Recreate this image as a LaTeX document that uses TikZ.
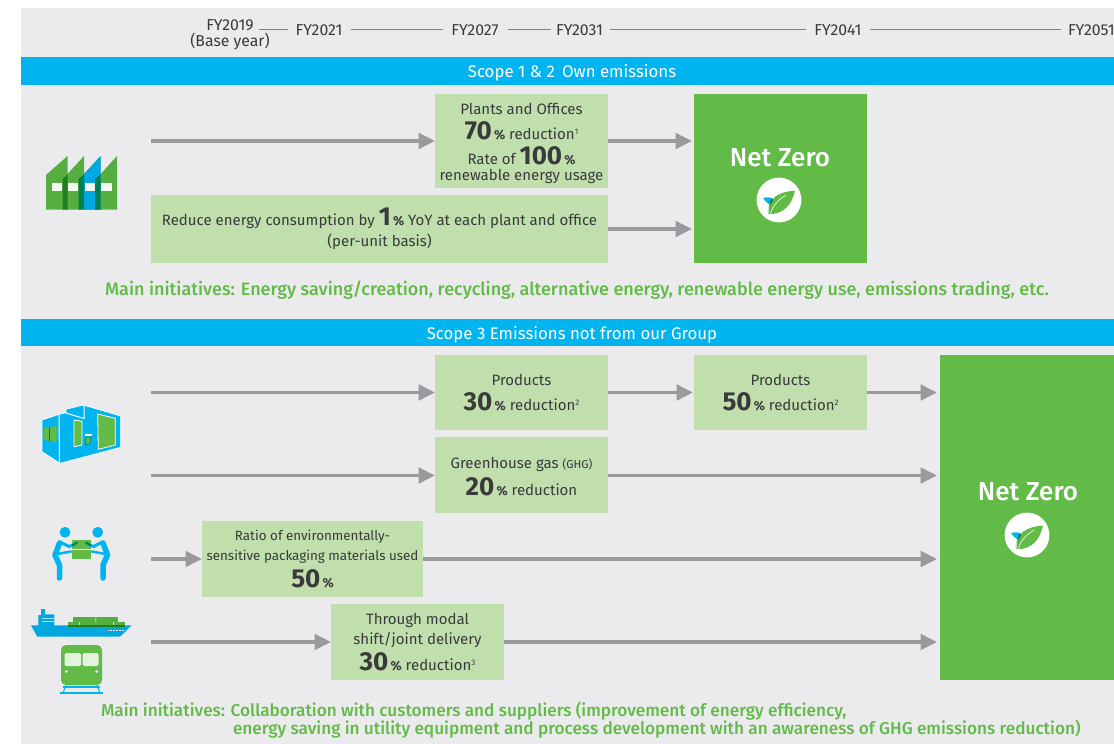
\documentclass[tikz,border=0pt]{standalone}
\usepackage{fontspec}
\setmainfont{Fira Sans}
\newfontfamily\medf{Fira Sans Medium}
\usetikzlibrary{arrows.meta,calc}
\definecolor{bgc}{HTML}{EBEBED}
\definecolor{cy}{HTML}{00B5EF}
\definecolor{cy2}{HTML}{00A7E1}
\definecolor{gr}{HTML}{62BB46}
\definecolor{gr2}{HTML}{55AE3F}
\definecolor{lg}{HTML}{C0DFAD}
\definecolor{ar}{HTML}{9A9A9E}
\definecolor{tx}{HTML}{3A3A3C}
\definecolor{dg}{HTML}{1F7F22}
\definecolor{teal2}{HTML}{007F50}
\newcommand{\bign}[1]{{\fontsize{26}{26}\selectfont\bfseries #1}}
\newcommand{\pc}{{\fontsize{13}{13}\selectfont\bfseries\,\%}}
\newcommand{\sups}[1]{\raisebox{4.5pt}{\fontsize{8}{8}\selectfont #1}}
\tikzset{
  x=1pt,y=-1pt,
  base/.style={inner sep=0pt,outer sep=0pt,text=tx,font=\fontsize{15}{17}\selectfont,align=center},
  gbox/.style={base,fill=lg,minimum width=#1},
  year/.style={base,font=\fontsize{15.8}{17}\selectfont},
  banner/.style={base,fill=cy,text=white,font=\fontsize{16.8}{18}\selectfont,minimum width=1093pt},
  nzbox/.style={base,fill=gr},
  nztext/.style={base,text=white,font=\fontsize{26}{28}\selectfont\medf},
  init/.style={base,text=gr,font=\fontsize{18}{18.5}\selectfont\medf,align=left},
  tline/.style={draw=ar!85!black,line width=0.7pt},
  flow/.style={draw=ar,line width=3.6pt,-{Triangle[length=16.5pt,width=15.5pt]}},
  leafpic/.pic={
    \fill[white] (0,0) circle (22.4);
    \fill[gr] (-11,14) .. controls (-13,-2) and (2,-9) .. (16,-9.3) .. controls (13,4) and (5,15) .. (-11,14) -- cycle;
    \fill[cy] (-16,-2) .. controls (-12,-3) and (-9,-3) .. (-7,-2) .. controls (-8,1) and (-8,3) .. (-9,5) .. controls (-12,3) and (-14,1) .. (-16,-2) -- cycle;
    \fill[teal2] (-7,-2) .. controls (-5,0) and (-7,3) .. (-9,5) .. controls (-9,2) and (-9,0) .. (-7,-2) -- cycle;
    \draw[white,line width=0.6pt] (-9,16) .. controls (-7,6) and (-1,0) .. (7,-5);
    \draw[white,line width=0.5pt] (-10,16) -- (-11,4);
  },
}
\begin{document}
\begin{tikzpicture}
\useasboundingbox (0,0) rectangle (1114,744);
\fill[white] (0,0) rectangle (1114,744);
\fill[bgc] (21,8) rectangle (1114,744);

% timeline
\node[year] (y19) at (230,34.5) {FY2019\\[-1.5pt](Base year)};
\node[year] (y21) at (319,30.5) {FY2021};
\node[year] (y27) at (475,30.5) {FY2027};
\node[year] (y31) at (579.5,30.5) {FY2031};
\node[year] (y41) at (838,30.5) {FY2041};
\node[year,anchor=west] (y51) at (1068,30.5) {FY2051};
\coordinate (t19) at (259,29);
\coordinate (t21) at (288,29);
\draw[tline] (t19) -- (t21);
\draw[tline] (351,29) coordinate (t21b) -- (443,29) coordinate (t27);
\draw[tline] (508,29) coordinate (t27b) -- (551,29) coordinate (t31);
\draw[tline] (610,29) coordinate (t31b) -- (806,29) coordinate (t41);
\draw[tline] (870,29) coordinate (t41b) -- (1061,29) coordinate (t51);

% banners
\node[banner,minimum height=28pt] (b1) at (567.5,71) {\hspace*{9pt}\raisebox{-6.5pt}[0pt][0pt]{Scope 1 \& 2\, Own emissions}};
\node[banner,minimum height=27pt] (b2) at (567.5,332.5) {\hspace*{9pt}\raisebox{-6.5pt}[0pt][0pt]{Scope 3 Emissions not from our Group}};

% Scope 1&2 boxes
\node[gbox=173pt,minimum height=94pt] (A) at (521.5,141) {\rule{0pt}{16pt}Plants and Offices\\[5.5pt]\bign{70}\pc{} reduction\sups{1}\\[5.5pt]Rate of \bign{100}\pc\\[-1pt]renewable energy usage};
\node[gbox=457pt,minimum height=68pt] (B) at (379.5,229) {\rule{0pt}{14pt}Reduce energy consumption by \bign{1}\pc{} YoY at each plant and office\\[4pt](per-unit basis)};
\node[nzbox,minimum width=173pt,minimum height=169pt] (N1) at (780.5,178.5) {};
\node[nztext] (N1t) at (780,158) {Net Zero};
\pic at (779,200) {leafpic};
\node[init] (I1) at (577,290) {Main initiatives: Energy saving/creation, recycling, alternative energy, renewable energy use, emissions trading, etc.};

% Scope 3 boxes
\node[gbox=173pt,minimum height=75pt] (C) at (521.5,392.5) {Products\\[6pt]\bign{30}\pc{} reduction\sups{2}};
\node[gbox=173pt,minimum height=75pt] (D) at (780.5,392.5) {Products\\[6pt]\bign{50}\pc{} reduction\sups{2}};
\node[gbox=173pt,minimum height=76pt] (E) at (521.5,475) {\rule{0pt}{15pt}Greenhouse gas {\fontsize{11.5}{14}\selectfont(GHG)}\\[5pt]\bign{20}\pc{} reduction};
\node[gbox=221pt,minimum height=76pt,font=\fontsize{13.4}{17}\selectfont] (F) at (312.5,559) {Ratio of environmentally-\\[2.5pt]sensitive packaging materials used\\[5pt]\bign{50}\pc};
\node[gbox=173pt,minimum height=76pt] (G) at (417.5,642) {Through modal\\[3pt]shift/joint delivery\\[4pt]\bign{30}\pc{} reduction\sups{3}};
\node[nzbox,minimum width=174pt,minimum height=325pt] (N2) at (1027,517.5) {};
\node[nztext] (N2t) at (1028,492) {Net Zero};
\pic at (1027,535) {leafpic};
\node[init,anchor=west,font=\fontsize{17.2}{18.5}\selectfont\medf] (I2) at (101,720) {Main initiatives: Collaboration with customers and suppliers (improvement of energy efficiency,\\\hspace*{132pt}energy saving in utility equipment and process development with an awareness of GHG emissions reduction)};

% flows
\coordinate (s1) at (151,141);
\coordinate (s2) at (151,392.5);
\coordinate (s3) at (151,475.5);
\coordinate (s4) at (151,559);
\coordinate (s5) at (151,642);
\draw[flow] (s1) -- (A.west);
\draw[flow] (A.east) -- ([xshift=-2pt]N1.west |- A.east);
\draw[flow] (B.east) -- ([xshift=-2pt]N1.west |- B.east);
\draw[flow] (s2) -- (C.west);
\draw[flow] (C.east) -- ([xshift=-1pt]D.west);
\draw[flow] (D.east) -- ([xshift=-3pt]N2.west |- D.east);
\draw[flow] (s3) -- (E.west |- s3);
\draw[flow] (E.east |- s3) -- ([xshift=-3pt]N2.west |- s3);
\draw[flow] (s4) -- (F.west);
\draw[flow] (F.east) -- ([xshift=-3pt]N2.west |- F.east);
\draw[flow] (s5) -- (G.west);
\draw[flow] (G.east) -- ([xshift=-3pt]N2.west |- G.east);

% factory icon
\fill[gr2] (46,175) -- (67.5,156) -- (67.5,174) -- (84,156) -- (84,174) -- (100.7,156) -- (100.7,174) -- (117,156) -- (117,209.5) -- (46,209.5) -- cycle;
\fill[cy2] (84,174) -- (100.7,156) -- (100.7,209.5) -- (84,209.5) -- cycle;
\fill[dg] (62.5,179) -- (67.5,174.5) -- (67.5,209.5) -- (62.5,209.5) -- cycle;
\fill[teal2] (78.5,179) -- (84,174.5) -- (84,209.5) -- (78.5,209.5) -- cycle;
\fill[teal2] (95,179) -- (100.7,174.5) -- (100.7,209.5) -- (95,209.5) -- cycle;
\foreach \a/\b in {52/62,68/78,85/95,101/112} \fill[white!92!gr] (\a,183) rectangle (\b,190.7);

% container icon
\fill[cy,draw=white,line width=0.7pt,line join=round] (42,420) -- (59,414.3) -- (66,412.7) -- (66,409.3) -- (83.3,405) -- (120.7,416) -- (120.7,447.3) -- (60,463.3) -- (42,451.7) -- cycle;
\draw[white,line width=1pt] (59,414.3) -- (59.5,463);
\draw[white,line width=1pt] (84,405) -- (84,418.5) -- (66,413);
\fill[gr,draw=white,line width=0.8pt] (74,420) -- (82,421.3) -- (82,445) -- (74,446.7) -- cycle;
\fill[gr,draw=white,line width=0.8pt] (97.7,414) -- (115.3,418.3) -- (115.3,445) -- (98.3,449.3) -- cycle;
\fill[gr,draw=teal2,line width=0.5pt] (85.3,437.7) -- (90.7,436.7) -- (90.7,443.3) -- (85.3,444.7) -- cycle;
\fill[white] (84.5,434) rectangle (92,436);
\fill[gr] (43.3,428) -- (56.7,426) -- (56.7,441.7) -- (43.3,440) -- cycle;
\draw[teal2,line width=0.4pt] (49,427) -- (49,441);

% people icon
\fill[cy] (65,532.3) circle (5.4) (97.7,532.3) circle (5.4);
\fill[gr] (72.3,540) rectangle (90.7,559);
\fill[white] (72.3,548.7) rectangle (90.7,549.7);
\begin{scope}[draw=cy,line cap=round,line join=round]
\draw[line width=5.5pt] (59.5,543) -- (55,555) -- (59.5,565) -- (59.5,578);
\draw[line width=5.5pt] (103,543) -- (107.5,555) -- (103,565) -- (103,578);
\draw[line width=3pt] (60,542) -- (69,546.5) -- (75,544);
\draw[line width=3pt] (102.5,542) -- (93.5,546.5) -- (87.5,544);
\draw[line width=2.5pt] (57,554) -- (71,551.5);
\draw[line width=2.5pt] (105.5,554) -- (92,551.5);
\end{scope}
\draw[teal2,line width=2pt,line cap=round] (72.5,545.5) -- (77,542.5) (90.5,545.5) -- (86,542.5);

% ship icon
\fill[gr2] (73.3,617) rectangle (118.3,622);
\fill[gr2] (67.7,622) rectangle (125,626);
\fill[white] (95.5,617) rectangle (96,622) (79,622) rectangle (79.5,626) (113,622) rectangle (113.5,626);
\fill[cy2] (31,625.3) -- (38.3,625.3) -- (38.3,615) -- (41,615) -- (41,609) -- (45,609) -- (45,614.3) -- (54.3,614.3) -- (54.3,625.3) -- (131.7,625.3) -- (120,636.7) -- (37.3,636.7) -- cycle;
\fill[dg] (67.7,625) rectangle (125,627);
\fill[white] (42,618) rectangle (54.3,618.7) (42,621) rectangle (54.3,621.7);
\draw[white,line width=0.5pt,dash pattern=on 1pt off 0.5pt] (108,630) -- (124,630);

% train icon
\fill[gr,rounded corners=5pt] (61,645) rectangle (102,685);
\fill[white!82!gr,rounded corners=1.5pt] (64.5,653) rectangle (81,666);
\fill[white!82!gr,rounded corners=1.5pt] (82.7,653) rectangle (98.7,666);
\fill[white!80!gr] (66.3,671.5) circle (1.5) (96.7,671.5) circle (1.5);
\draw[cy,line width=1.2pt] (63,687) -- (100,687) (60,693) -- (103,693);
\draw[cy,line width=1pt] (66,685) -- (63,693) (97,685) -- (100,693);
\end{tikzpicture}
\end{document}
